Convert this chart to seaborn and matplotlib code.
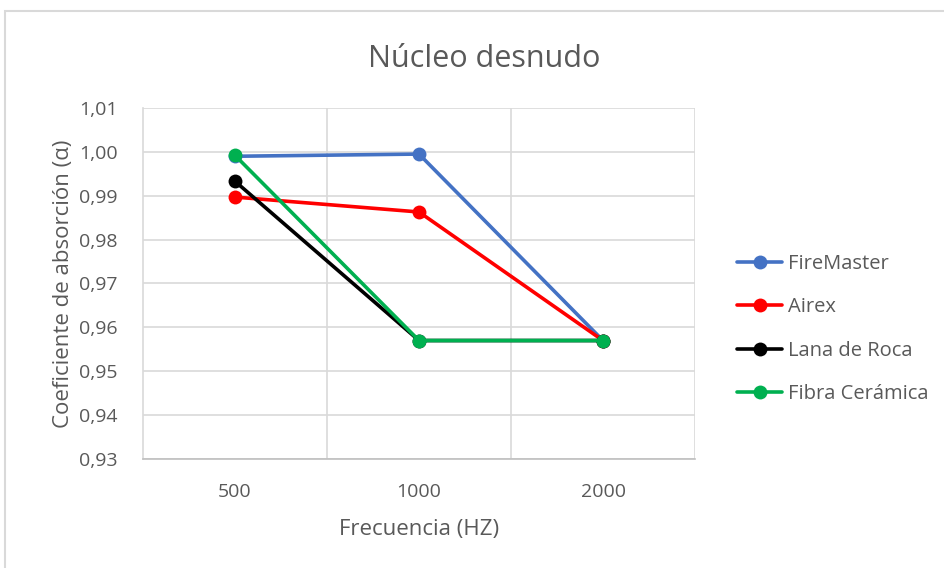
import matplotlib
matplotlib.use("Agg")
import matplotlib.pyplot as plt
import matplotlib.patches as mpatches
from matplotlib.ticker import FixedLocator, FuncFormatter
import seaborn as sns
import pandas as pd

frequencies = ["500", "1000", "2000"]
series_names = ["FireMaster", "Airex", "Lana de Roca", "Fibra Cerámica"]
firemaster = [0.9990, 0.9995, 0.9570]
airex = [0.9897, 0.9863, 0.9570]
lana_de_roca = [0.9933, 0.9570, 0.9570]
fibra_ceramica = [0.9992, 0.9570, 0.9570]
y_ticks = [0.93, 0.94, 0.95, 0.96, 0.97, 0.98, 0.99, 1.00, 1.01]

colors = ["#4472C4", "#FF0000", "#000000", "#00B050"]

rows = []
for name, vals in zip(series_names, [firemaster, airex, lana_de_roca, fibra_ceramica]):
    for i, (f, v) in enumerate(zip(frequencies, vals)):
        rows.append({"pos": i, "Frecuencia": f, "Serie": name, "valor": v})
df = pd.DataFrame(rows)

sns.set_theme(style="white")
plt.rcParams["font.family"] = ["Open Sans", "DejaVu Sans"]
txt = "#595959"

fig = plt.figure(figsize=(9.44, 5.68), dpi=100)
fig.patches.append(mpatches.Rectangle((5 / 944, -0.1), 2, 1 - 11 / 568 + 0.1,
                                      transform=fig.transFigure, fill=False,
                                      edgecolor="#D9D9D9", linewidth=1.5, zorder=0))
ax = fig.add_axes([143 / 944, 1 - 459 / 568, (695 - 143) / 944, (459 - 108) / 568])

sns.lineplot(data=df, x="pos", y="valor", hue="Serie", hue_order=series_names,
             palette=colors, marker="o", markersize=10, linewidth=2.6,
             markeredgewidth=0, ax=ax, legend=True, sort=False)

ax.set_xlim(-0.5, 2.5)
ax.set_ylim(0.93, 1.01)
ax.xaxis.set_major_locator(FixedLocator([0, 1, 2]))
ax.set_xticklabels(frequencies)
ax.xaxis.set_minor_locator(FixedLocator([0.5, 1.5, 2.5]))
ax.yaxis.set_major_locator(FixedLocator(y_ticks))
ax.yaxis.set_major_formatter(FuncFormatter(lambda v, p: f"{v:.2f}".replace(".", ",")))
ax.grid(False)
ax.grid(True, axis="y", which="major", color="#D9D9D9", linewidth=1.2)
ax.grid(True, axis="x", which="minor", color="#D9D9D9", linewidth=1.2)
ax.set_axisbelow(True)
for s in ["top", "right"]:
    ax.spines[s].set_visible(False)
ax.spines["left"].set_color("#D9D9D9")
ax.spines["bottom"].set_color("#BFBFBF")
ax.spines["left"].set_linewidth(1.2)
ax.spines["bottom"].set_linewidth(1.2)
ax.tick_params(axis="both", which="both", length=0, colors=txt, labelsize=14)
ax.tick_params(axis="y", pad=18)
ax.tick_params(axis="x", pad=17)

ax.set_xlabel("Frecuencia (HZ)", color=txt, fontsize=16, labelpad=13)
ax.set_ylabel("Coeficiente de absorción (α)", color=txt, fontsize=16, labelpad=4)
fig.text(484 / 944, 1 - 59 / 568, "Núcleo desnudo", ha="center", va="center",
         color=txt, fontsize=22)

handles, labels = ax.get_legend_handles_labels()
leg = ax.legend(handles, labels, loc="center left", bbox_to_anchor=(719 / 944, 1 - 329 / 568),
                bbox_transform=fig.transFigure, frameon=False, fontsize=14.5,
                labelcolor=txt, handlelength=2.25, handletextpad=0.3, labelspacing=1.16)
for h in leg.legend_handles:
    h.set_linewidth(2.6)
    h.set_markersize(10)

fig.savefig("out.png", dpi=100)
